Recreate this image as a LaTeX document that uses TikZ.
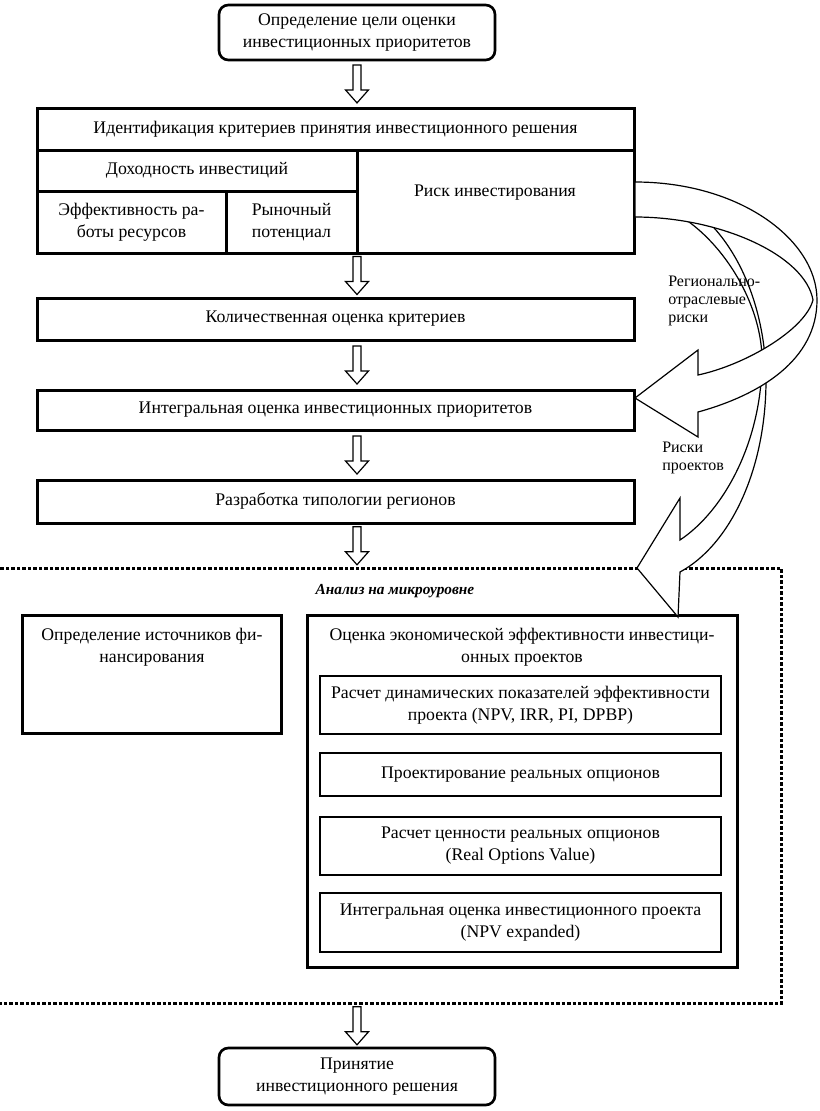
\documentclass[tikz,border=0pt]{standalone}
\usepackage{fontspec}
\setmainfont{Liberation Serif}
\usetikzlibrary{calc,fit}
\newcommand{\mainf}{\fontsize{13.3}{16.5}\selectfont}
\newcommand{\lblf}{\fontsize{12}{13.5}\selectfont}
\newcommand{\anf}{\fontsize{11.5}{13}\selectfont\bfseries\itshape}
\begin{document}
\begin{tikzpicture}[x=0.75pt,y=-0.75pt,
  txt/.style={font=\mainf, align=center, inner sep=0pt},
  cell/.style={draw, line width=2.25pt, inner sep=0pt},
  sub/.style={draw, line width=1.1pt, inner sep=0pt},
  rbox/.style={draw, line width=2pt, rounded corners=7pt, inner sep=0pt},
  band/.style={draw, line width=0.9pt, fill=white, line join=miter},
  dotbox/.style={draw, line width=2.25pt, dash pattern=on 2.6pt off 1.5pt},
  lbl/.style={font=\lblf, align=left, inner sep=0pt},
  hdown/.pic={\draw[band] (-4,-19) -- (4,-19) -- (4,6) -- (11.5,6) -- (0,19) -- (-11.5,6) -- (-4,6) -- cycle;}
]
\useasboundingbox (0,0) rectangle (819,1111);

% top
\node[rbox, fit={(219,5)(495,60)}] (goal) {};
\node[txt] (goalt) at (goal.center) {Определение цели оценки\\инвестиционных приоритетов};

% criteria block
\node[cell, fit={(37,108)(634,150)}] (hdr) {};
\node[txt] (hdrt) at (hdr.center) {Идентификация критериев принятия инвестиционного решения};
\node[cell, fit={(37,150)(357,191)}] (doh) {};
\node[txt] (doht) at (doh.center) {Доходность инвестиций};
\node[cell, fit={(37,191)(226,253)}] (eff) {};
\node[txt] (efft) at (eff.center) {Эффективность ра-\\боты ресурсов};
\node[cell, fit={(226,191)(357,253)}] (ryn) {};
\node[txt] (rynt) at (ryn.center) {Рыночный\\потенциал};
\node[cell, fit={(357,150)(634,253)}] (risk) {};
\node[txt] (riskt) at (495,193) {Риск инвестирования};

\node[cell, fit={(37,298)(634,340)}] (kol) {};
\node[txt] (kolt) at (kol.center) {Количественная оценка критериев};
\node[cell, fit={(37,390)(634,430)}] (integ) {};
\node[txt] (integt) at (integ.center) {Интегральная оценка инвестиционных приоритетов};
\node[cell, fit={(37,480)(634,523)}] (typ) {};
\node[txt] (typt) at (typ.center) {Разработка типологии регионов};

% micro level
\node[dotbox, fit={(3,573)(777,999)}] (micro) {};
\node[font=\anf, inner sep=0pt] (microt) at (395,591) {Анализ на микроуровне};
\node[cell, fit={(22,615)(281,733)}] (fin) {};
\node[txt] (fint) at (152,647) {Определение источников фи-\\нансирования};
\node[cell, fit={(307,615)(737,967)}] (eval) {};
\node[txt] (evalt) at (522,647) {Оценка экономической эффективности инвестици-\\онных проектов};
\node[sub, fit={(320,676)(721,734)}] (dyn) {};
\node[txt] (dynt) at (dyn.center) {Расчет динамических показателей эффективности\\проекта (NPV, IRR, PI, DPBP)};
\node[sub, fit={(320,753)(721,796)}] (des) {};
\node[txt] (dest) at (des.center) {Проектирование реальных опционов};
\node[sub, fit={(320,817)(721,875)}] (rov) {};
\node[txt] (rovt) at (rov.center) {Расчет ценности реальных опционов\\(Real Options Value)};
\node[sub, fit={(320,893)(721,952)}] (npv) {};
\node[txt] (npvt) at (npv.center) {Интегральная оценка инвестиционного проекта\\(NPV expanded)};

% bottom
\node[rbox, fit={(219,1048)(495,1105)}] (dec) {};
\node[txt] (dect) at (dec.center) {Принятие\\инвестиционного решения};

% hollow down arrows
\path (goal.south) -- (hdr.north) coordinate[pos=.5] (y1);
\path (ryn.south) -- (kol.north) coordinate[pos=.5] (y2);
\path (kol.south) -- (integ.north) coordinate[pos=.5] (y3);
\path (integ.south) -- (typ.north) coordinate[pos=.5] (y4);
\path (typ.south) -- (micro.north) coordinate[pos=.5] (y5);
\path (micro.south) -- (dec.north) coordinate[pos=.5] (y6);
\foreach \i in {1,...,6} { \pic at (goal.south |- y\i) {hdown}; }

% curved arrow: project risks (behind)
\draw[band] (635,186) .. controls (720,195) and (766,290) .. (766,380)
  .. controls (766,470) and (730,545) .. (680,572) -- (678,617) -- (637,568) -- (680,498) -- (680,540)
  .. controls (725,510) and (762,440) .. (762,360)
  .. controls (762,290) and (700,205) .. (635,200) -- cycle;
% curved arrow: regional-sector risks (front)
\draw[band] (635,182) .. controls (740,182) and (817,240) .. (817,300)
  .. controls (817,360) and (760,395) .. (698,412) -- (698,437) -- (635,398) -- (698,350) -- (698,375)
  .. controls (745,365) and (805,330) .. (813,300)
  .. controls (805,255) and (720,217) .. (635,217) -- cycle;

\node[lbl, anchor=west] (lreg) at (668,301) {Регионально-\\отраслевые\\риски};
\node[lbl, anchor=west] (lproj) at (662,458) {Риски\\проектов};
\end{tikzpicture}
\end{document}
